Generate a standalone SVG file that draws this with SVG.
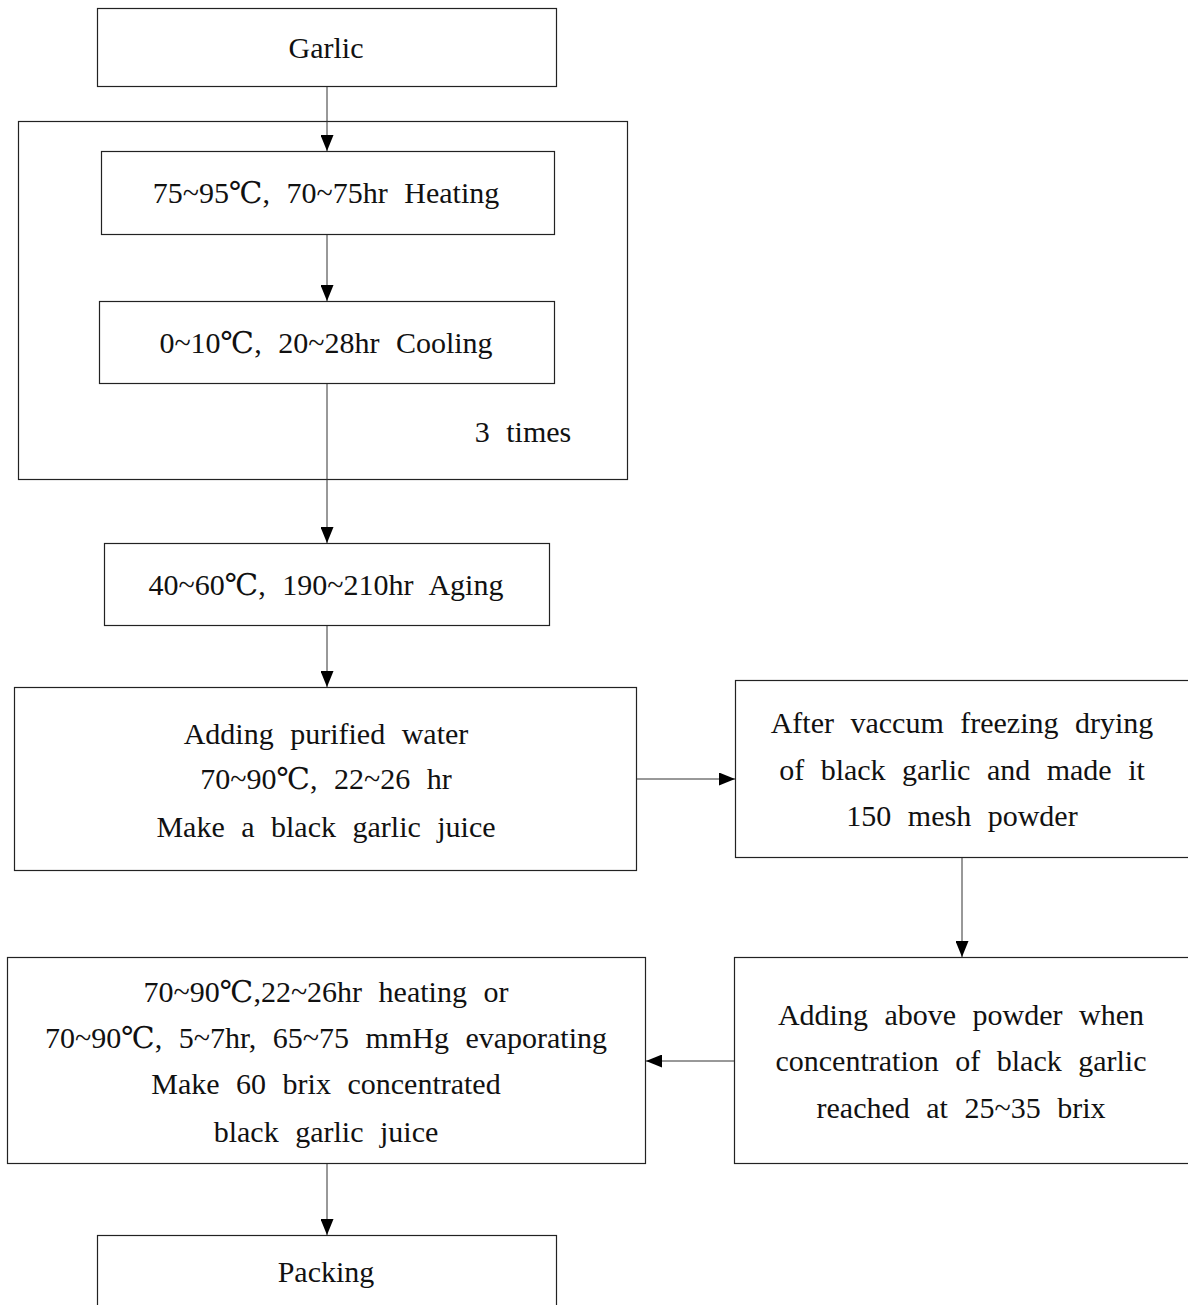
<svg xmlns="http://www.w3.org/2000/svg" width="1188" height="1305" viewBox="0 0 1188 1305">
  <style>
    .box { fill: #ffffff; stroke: #222222; stroke-width: 1.2; }
    .frame { fill: none; stroke: #222222; stroke-width: 1.2; }
    .link { fill: none; stroke: #333333; stroke-width: 1; marker-end: url(#arrow); }
    text { font-family: "Liberation Serif", "DejaVu Serif", "Noto Sans CJK KR", serif; font-size: 30px; fill: #111111; text-anchor: middle; word-spacing: 9px; }
  </style>
  <defs>
    <marker id="arrow" viewBox="0 0 16 13" refX="16" refY="6.5" markerWidth="16" markerHeight="13" markerUnits="userSpaceOnUse" orient="auto">
      <path d="M0,0 L16,6.5 L0,13 Z" fill="#000000"/>
    </marker>
  </defs>
  <rect width="1188" height="1305" fill="#ffffff"/>

  <!-- repeated heating / cooling cycle frame -->
  <g id="cycle">
    <rect class="frame" x="18.5" y="121.5" width="609" height="358"/>
    <text x="523" y="442">3 times</text>
  </g>

  <g id="connectors">
    <line class="link" x1="327" y1="86" x2="327" y2="151"/>
    <line class="link" x1="327" y1="234" x2="327" y2="301"/>
    <line class="link" x1="327" y1="383" x2="327" y2="543"/>
    <line class="link" x1="327" y1="625" x2="327" y2="687"/>
    <line class="link" x1="637" y1="779" x2="735" y2="779"/>
    <line class="link" x1="962" y1="857" x2="962" y2="957"/>
    <line class="link" x1="734" y1="1061" x2="646" y2="1061"/>
    <line class="link" x1="327" y1="1164" x2="327" y2="1235"/>
  </g>

  <g id="garlic">
    <rect class="box" x="97.5" y="8.5" width="459" height="78"/>
    <text x="326" y="58">Garlic</text>
  </g>

  <g id="heating">
    <rect class="box" x="101.5" y="151.5" width="453" height="83"/>
    <text x="326" y="203">75~95℃, 70~75hr Heating</text>
  </g>

  <g id="cooling">
    <rect class="box" x="99.5" y="301.5" width="455" height="82"/>
    <text x="326" y="353">0~10℃, 20~28hr Cooling</text>
  </g>

  <g id="aging">
    <rect class="box" x="104.5" y="543.5" width="445" height="82"/>
    <text x="326" y="595">40~60℃, 190~210hr Aging</text>
  </g>

  <g id="juice">
    <rect class="box" x="14.5" y="687.5" width="622" height="183"/>
    <text x="326" y="744">Adding purified water</text>
    <text x="326" y="789">70~90℃, 22~26 hr</text>
    <text x="326" y="837">Make a black garlic juice</text>
  </g>

  <g id="powder">
    <rect class="box" x="735.5" y="680.5" width="460" height="177"/>
    <text x="962" y="733">After vaccum freezing drying</text>
    <text x="962" y="780">of black garlic and made it</text>
    <text x="962" y="826">150 mesh powder</text>
  </g>

  <g id="concentrate">
    <rect class="box" x="7.5" y="957.5" width="638" height="206"/>
    <text x="326" y="1002">70~90℃,22~26hr heating or</text>
    <text x="326" y="1048">70~90℃, 5~7hr, 65~75 mmHg evaporating</text>
    <text x="326" y="1094">Make 60 brix concentrated</text>
    <text x="326" y="1142">black garlic juice</text>
  </g>

  <g id="add-powder">
    <rect class="box" x="734.5" y="957.5" width="460" height="206"/>
    <text x="961" y="1025">Adding above powder when</text>
    <text x="961" y="1071">concentration of black garlic</text>
    <text x="961" y="1118">reached at 25~35 brix</text>
  </g>

  <g id="packing">
    <rect class="box" x="97.5" y="1235.5" width="459" height="90"/>
    <text x="326" y="1282">Packing</text>
  </g>
</svg>
